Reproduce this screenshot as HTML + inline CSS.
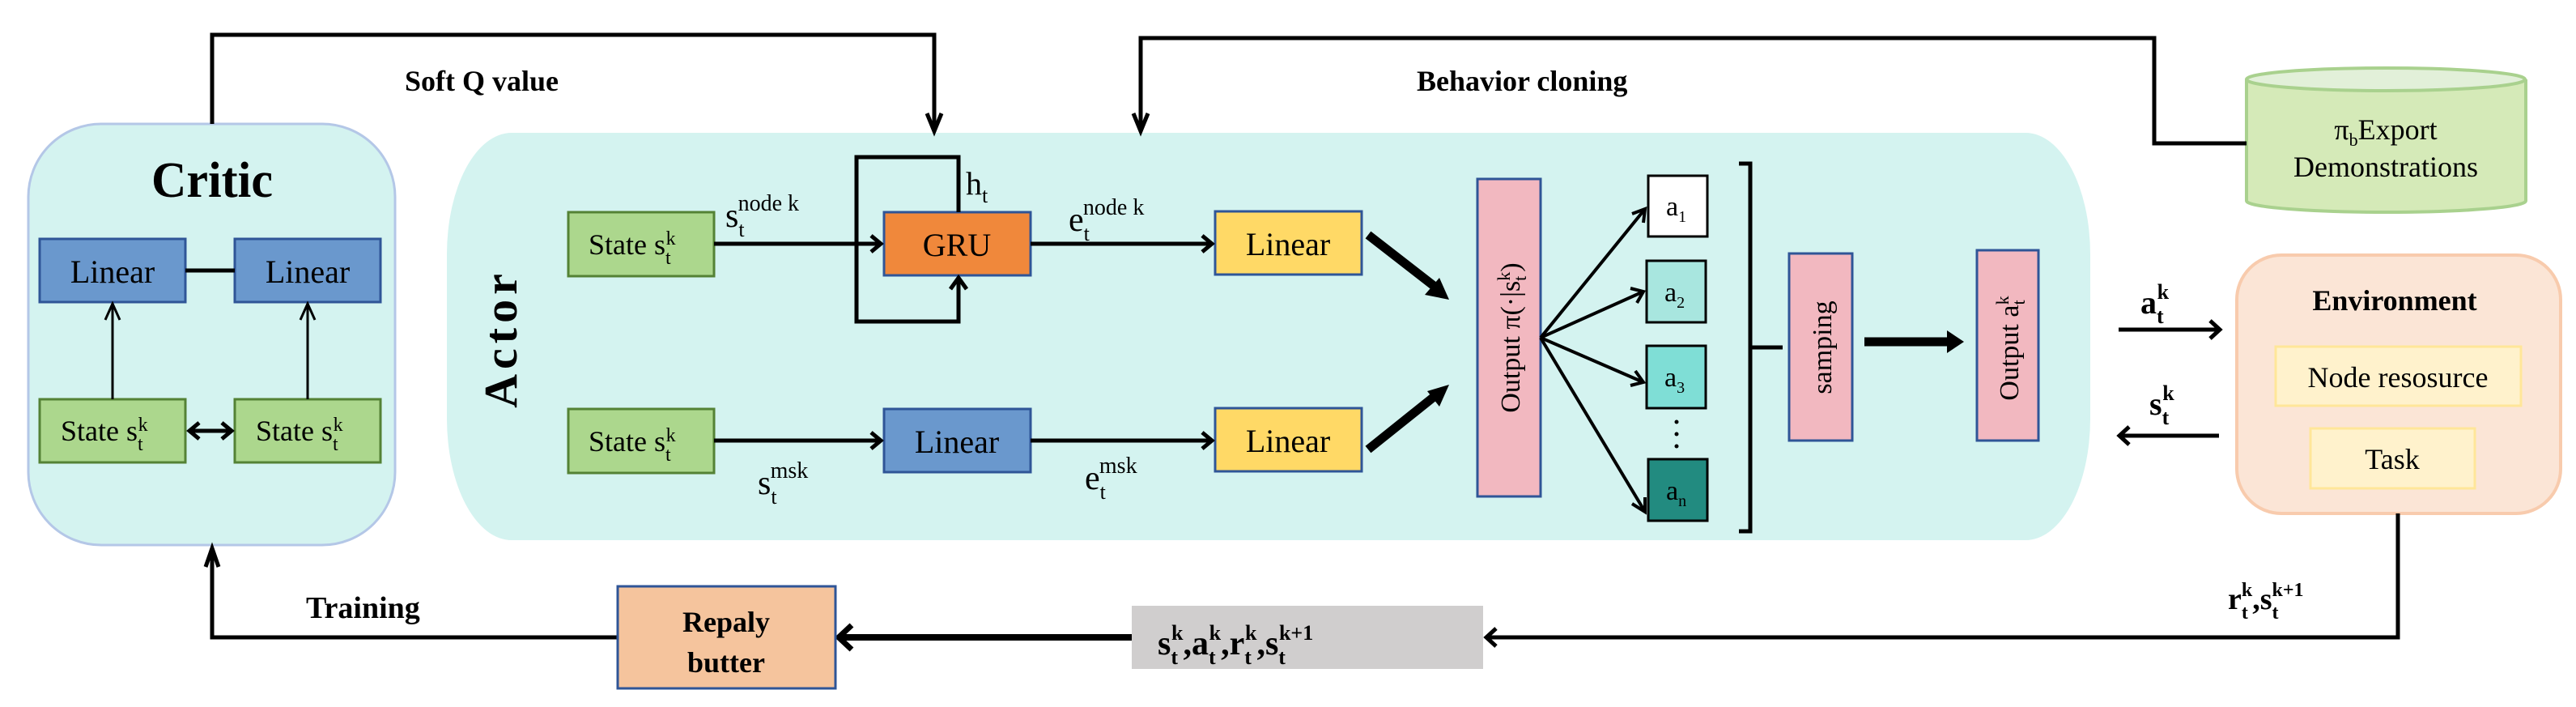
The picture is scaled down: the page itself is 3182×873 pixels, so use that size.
<!DOCTYPE html>
<html><head><meta charset="utf-8"><style>
html,body{margin:0;padding:0;background:#fff;width:3182px;height:873px;overflow:hidden}
</style></head><body>
<svg width="3182" height="873" viewBox="0 0 3182 873" xmlns="http://www.w3.org/2000/svg" font-family="'Liberation Serif', 'Times New Roman', serif" style="font-family:'Liberation Serif','Times New Roman',serif">
<!-- Critic -->
<rect x="35" y="153" width="453" height="520" rx="90" ry="90" fill="#d4f3f0" stroke="#b4c7e7" stroke-width="3"/>
<text x="262" y="243" font-size="62" font-weight="bold" text-anchor="middle" textLength="150" lengthAdjust="spacingAndGlyphs">Critic</text>
<rect x="49" y="295" width="180" height="78" fill="#6a98cd" stroke="#2f5597" stroke-width="3"/>
<rect x="290" y="295" width="180" height="78" fill="#6a98cd" stroke="#2f5597" stroke-width="3"/>
<line x1="229" y1="334" x2="290" y2="334" stroke="#000" stroke-width="5"/>
<text x="139" y="349" font-size="40" text-anchor="middle">Linear</text>
<text x="380" y="349" font-size="40" text-anchor="middle">Linear</text>
<rect x="49" y="493" width="180" height="78" fill="#acd78d" stroke="#548235" stroke-width="3"/>
<rect x="290" y="493" width="180" height="78" fill="#acd78d" stroke="#548235" stroke-width="3"/>
<text x="75" y="544" font-size="36">State s<tspan font-size="24" dy="12">t</tspan><tspan font-size="24" dy="-24" dx="-6">k</tspan></text>
<text x="316" y="544" font-size="36">State s<tspan font-size="24" dy="12">t</tspan><tspan font-size="24" dy="-24" dx="-6">k</tspan></text>
<g stroke="#000" stroke-width="3" fill="none">
<line x1="139" y1="493" x2="139" y2="378"/><polyline points="130,395 139,375 148,395"/>
<line x1="380" y1="493" x2="380" y2="378"/><polyline points="371,395 380,375 389,395"/>
</g>
<g stroke="#000" stroke-width="5" fill="none">
<line x1="234" y1="532" x2="286" y2="532"/><polyline points="246,522 234,532 246,542"/><polyline points="274,522 286,532 274,542"/>
</g>
<!-- Actor panel -->
<rect x="552" y="164" width="2030" height="503" rx="80" ry="150" fill="#d4f3f0"/>
<text transform="translate(638,418) rotate(-90)" font-size="58" font-weight="bold" text-anchor="middle" letter-spacing="6">Actor</text>
<!-- top row -->
<rect x="702" y="262" width="180" height="79" fill="#acd78d" stroke="#548235" stroke-width="3"/>
<text x="727" y="314" font-size="36">State s<tspan font-size="24" dy="12">t</tspan><tspan font-size="24" dy="-24" dx="-6">k</tspan></text>
<rect x="1092" y="262" width="181" height="78" fill="#f0883b" stroke="#2f5597" stroke-width="3"/>
<text x="1182" y="316" font-size="40" text-anchor="middle">GRU</text>
<rect x="1501" y="261" width="181" height="78" fill="#ffd966" stroke="#2f5597" stroke-width="3"/>
<text x="1591" y="315" font-size="40" text-anchor="middle">Linear</text>
<g stroke="#000" stroke-width="5" fill="none">
<line x1="882" y1="301" x2="1088" y2="301"/><polyline points="1076,291 1088,301 1076,311"/>
<polyline points="1184,262 1184,194 1058,194 1058,397 1184,397 1184,345"/>
<polyline points="1174,357 1184,343 1194,357"/>
<line x1="1273" y1="301" x2="1497" y2="301"/><polyline points="1485,291 1497,301 1485,311"/>
</g>
<text x="1193" y="240" font-size="40">h<tspan font-size="26" dy="10">t</tspan></text>
<text x="896" y="280" font-size="42">s<tspan font-size="26" dy="12">t</tspan><tspan font-size="28" dy="-32" dx="-8">node k</tspan></text>
<text x="1320" y="285" font-size="42">e<tspan font-size="26" dy="12">t</tspan><tspan font-size="28" dy="-32" dx="-8">node k</tspan></text>
<!-- bottom row -->
<rect x="702" y="505" width="180" height="79" fill="#acd78d" stroke="#548235" stroke-width="3"/>
<text x="727" y="557" font-size="36">State s<tspan font-size="24" dy="12">t</tspan><tspan font-size="24" dy="-24" dx="-6">k</tspan></text>
<rect x="1092" y="505" width="181" height="78" fill="#6a98cd" stroke="#2f5597" stroke-width="3"/>
<text x="1182" y="559" font-size="40" text-anchor="middle">Linear</text>
<rect x="1501" y="504" width="181" height="78" fill="#ffd966" stroke="#2f5597" stroke-width="3"/>
<text x="1591" y="558" font-size="40" text-anchor="middle">Linear</text>
<g stroke="#000" stroke-width="5" fill="none">
<line x1="882" y1="544" x2="1088" y2="544"/><polyline points="1076,534 1088,544 1076,554"/>
<line x1="1273" y1="544" x2="1497" y2="544"/><polyline points="1485,534 1497,544 1485,554"/>
</g>
<text x="936" y="610" font-size="42">s<tspan font-size="26" dy="12">t</tspan><tspan font-size="28" dy="-32" dx="-8">msk</tspan></text>
<text x="1340" y="604" font-size="42">e<tspan font-size="26" dy="12">t</tspan><tspan font-size="28" dy="-32" dx="-8">msk</tspan></text>
<!-- thick diagonal arrows -->
<g stroke="#000" stroke-width="11" fill="none">
<line x1="1690" y1="290" x2="1775" y2="356"/>
<line x1="1690" y1="555" x2="1775" y2="487"/>
</g>
<polygon points="1790,370 1760,364 1778,343" fill="#000"/>
<polygon points="1790,475 1763,483 1778,502" fill="#000"/>
<!-- Output pi -->
<rect x="1825" y="221" width="78" height="392" fill="#f2b8c0" stroke="#2f5597" stroke-width="3"/>
<text transform="translate(1877,417) rotate(-90)" font-size="34" text-anchor="middle">Output π(·|s<tspan font-size="22" dy="8">t</tspan><tspan font-size="22" dy="-20" dx="-6">k</tspan><tspan dy="12">)</tspan></text>
<!-- a boxes -->
<rect x="2036" y="217" width="73" height="75" fill="#fff" stroke="#000" stroke-width="3"/>
<rect x="2034" y="322" width="73" height="76" fill="#a8e6df" stroke="#000" stroke-width="3"/>
<rect x="2034" y="427" width="73" height="77" fill="#7fded6" stroke="#000" stroke-width="3"/>
<rect x="2036" y="567" width="73" height="76" fill="#228b80" stroke="#000" stroke-width="3"/>
<text x="2058" y="266" font-size="34">a<tspan font-size="20" dy="8">1</tspan></text>
<text x="2056" y="372" font-size="34">a<tspan font-size="20" dy="8">2</tspan></text>
<text x="2056" y="477" font-size="34">a<tspan font-size="20" dy="8">3</tspan></text>
<text x="2058" y="617" font-size="34">a<tspan font-size="20" dy="8">n</tspan></text>
<g fill="#000"><circle cx="2071" cy="521" r="2.5"/><circle cx="2071" cy="536" r="2.5"/><circle cx="2071" cy="551" r="2.5"/></g>
<g stroke="#000" stroke-width="4" fill="none">
<line x1="1903" y1="417" x2="2032" y2="258"/><polyline points="2016,264 2032,258 2030,275"/>
<line x1="1903" y1="417" x2="2030" y2="360"/><polyline points="2014,356 2030,360 2022,374"/>
<line x1="1903" y1="417" x2="2030" y2="472"/><polyline points="2020,458 2030,472 2014,476"/>
<line x1="1903" y1="417" x2="2032" y2="632"/><polyline points="2016,622 2032,632 2032,614"/>
</g>
<!-- bracket -->
<polyline points="2148,202 2162,202 2162,656 2148,656" stroke="#000" stroke-width="5" fill="none"/>
<line x1="2162" y1="429" x2="2202" y2="429" stroke="#000" stroke-width="5"/>
<rect x="2210" y="313" width="78" height="231" fill="#f2b8c0" stroke="#2f5597" stroke-width="3"/>
<text transform="translate(2262,429) rotate(-90)" font-size="34" text-anchor="middle">samping</text>
<line x1="2303" y1="422" x2="2410" y2="422" stroke="#000" stroke-width="11"/>
<polygon points="2426,422 2405,408 2405,436" fill="#000"/>
<rect x="2442" y="309" width="76" height="235" fill="#f2b8c0" stroke="#2f5597" stroke-width="3"/>
<text transform="translate(2493,430) rotate(-90)" font-size="34" text-anchor="middle">Output a<tspan font-size="22" dy="8">t</tspan><tspan font-size="22" dy="-20" dx="-6">k</tspan></text>
<!-- Environment -->
<g stroke="#000" stroke-width="5" fill="none">
<line x1="2617" y1="407" x2="2742" y2="407"/><polyline points="2730,396 2742,407 2730,418"/>
<line x1="2741" y1="538" x2="2618" y2="538"/><polyline points="2630,527 2618,538 2630,549"/>
</g>
<text x="2644" y="387" font-size="40" font-weight="bold">a<tspan font-size="26" dy="12">t</tspan><tspan font-size="26" dy="-30" dx="-8">k</tspan></text>
<text x="2655" y="512" font-size="40" font-weight="bold">s<tspan font-size="26" dy="12">t</tspan><tspan font-size="26" dy="-30" dx="-8">k</tspan></text>
<rect x="2763" y="315" width="400" height="319" rx="55" ry="55" fill="#fbe5d6" stroke="#f8cbad" stroke-width="4"/>
<text x="2958" y="383" font-size="36" font-weight="bold" text-anchor="middle">Environment</text>
<rect x="2811" y="428" width="303" height="73" fill="#fff2cc" stroke="#ffe699" stroke-width="3"/>
<text x="2962" y="478" font-size="36" text-anchor="middle">Node resosurce</text>
<rect x="2854" y="529" width="203" height="74" fill="#fff2cc" stroke="#ffe699" stroke-width="3"/>
<text x="2955" y="579" font-size="36" text-anchor="middle">Task</text>
<!-- Cylinder -->
<path d="M2775,98 L2775,248 A172,14 0 0 0 3120,248 L3120,98" fill="#d5eab8" stroke="#a9d18e" stroke-width="4"/>
<ellipse cx="2947" cy="98" rx="172" ry="14" fill="#e2f0d9" stroke="#a9d18e" stroke-width="4"/>
<text x="2947" y="172" font-size="36" text-anchor="middle">π<tspan font-size="22" dy="8">b</tspan><tspan dy="-8">Export</tspan></text>
<text x="2947" y="218" font-size="36" text-anchor="middle">Demonstrations</text>
<!-- top feedback lines -->
<g stroke="#000" stroke-width="5" fill="none">
<polyline points="262,153 262,43 1154,43 1154,160"/>
<polyline points="1145,140 1154,162 1163,140"/>
<polyline points="2775,177 2661,177 2661,47 1409,47 1409,160"/>
<polyline points="1400,140 1409,162 1418,140"/>
</g>
<text x="500" y="112" font-size="36" font-weight="bold">Soft Q value</text>
<text x="1750" y="112" font-size="36" font-weight="bold">Behavior cloning</text>
<!-- bottom loop -->
<g stroke="#000" stroke-width="5" fill="none">
<polyline points="2962,634 2962,787 1836,787"/>
<polyline points="1848,776 1836,787 1848,798"/>
<line x1="1398" y1="787" x2="1040" y2="787" stroke-width="8"/>
<polyline points="1052,772 1036,787 1052,802" stroke-width="7"/>
<polyline points="763,787 262,787 262,680"/>
<polyline points="254,700 262,677 270,700"/>
</g>
<rect x="1398" y="748" width="434" height="78" fill="#d0cece"/>
<text x="1430" y="808" font-size="42" font-weight="bold">s<tspan font-size="26" dy="12">t</tspan><tspan font-size="26" dy="-30" dx="-8">k</tspan><tspan dy="18">,a</tspan><tspan font-size="26" dy="12">t</tspan><tspan font-size="26" dy="-30" dx="-8">k</tspan><tspan dy="18">,r</tspan><tspan font-size="26" dy="12">t</tspan><tspan font-size="26" dy="-30" dx="-8">k</tspan><tspan dy="18">,s</tspan><tspan font-size="26" dy="12">t</tspan><tspan font-size="26" dy="-30" dx="-8">k+1</tspan></text>
<text x="2752" y="752" font-size="38" font-weight="bold">r<tspan font-size="24" dy="12">t</tspan><tspan font-size="24" dy="-28" dx="-8">k</tspan><tspan dy="16">,s</tspan><tspan font-size="24" dy="12">t</tspan><tspan font-size="24" dy="-28" dx="-8">k+1</tspan></text>
<rect x="763" y="724" width="269" height="126" fill="#f5c49d" stroke="#2f5597" stroke-width="3"/>
<text x="897" y="780" font-size="36" font-weight="bold" text-anchor="middle">Repaly</text>
<text x="897" y="830" font-size="36" font-weight="bold" text-anchor="middle">butter</text>
<text x="378" y="763" font-size="38" font-weight="bold">Training</text>
</svg>
</body></html>
